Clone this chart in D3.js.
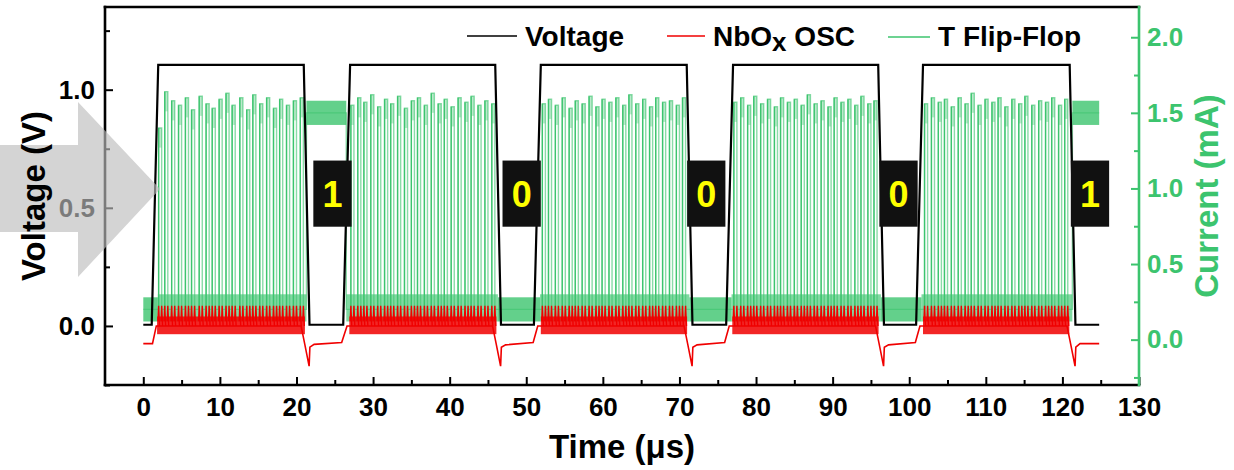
<!DOCTYPE html>
<html><head><meta charset="utf-8">
<script src="https://cdn.jsdelivr.net/npm/d3@7"></script>
<style>
body{margin:0;background:#fff;}
svg{display:block;font-family:"Liberation Sans",Arial,sans-serif;font-weight:bold;}
</style></head><body>
<svg id="chart" width="1234" height="470"></svg>
<script>
// ---- data ----
// input voltage (V): breakpoints of the pulse train
const voltT = [0, 1.1, 1.95, 20.95, 21.7, 26.1, 27.0, 45.95, 46.7, 51.0, 51.9, 70.95, 71.7, 76.1, 77.0, 95.95, 96.7, 100.9, 101.8, 120.95, 121.7, 124.8];
const voltV = [0.005, 0.005, 1.105, 1.105, 0.005, 0.005, 1.105, 1.105, 0.005, 0.005, 1.105, 1.105, 0.005, 0.005, 1.105, 1.105, 0.005, 0.005, 1.105, 1.105, 0.005, 0.005];

// NbOx oscillator (V): baseline between / at the edges of pulses
const redT = [0, 1.2, 1.7, 20.6, 21.1, 21.65, 21.75, 22.3, 25.9, 26.6,
  45.6, 46.1, 46.65, 46.75, 47.3, 50.9, 51.5,
  70.6, 71.1, 71.65, 71.75, 72.3, 75.9, 76.5,
  95.6, 96.1, 96.65, 96.75, 97.3, 100.8, 101.4,
  120.6, 121.1, 121.65, 121.75, 122.3, 124.8];
const redV = [-0.075, -0.075, 0.0, 0.0, -0.08, -0.17, -0.09, -0.078, -0.07, 0.0,
  0.0, -0.08, -0.17, -0.09, -0.08, -0.07, 0.0,
  0.0, -0.08, -0.17, -0.09, -0.08, -0.07, 0.0,
  0.0, -0.08, -0.17, -0.09, -0.08, -0.07, 0.0,
  0.0, -0.08, -0.17, -0.09, -0.075, -0.075];
const redBand = [-0.035, 0.04];   // dense oscillation band while pulse is on
const redSpikeTop = 0.085;

// T flip-flop current (mA): resting levels between pulses
const offStart = [0, 21.3, 46.3, 71.3, 96.3, 121.3];
const offEnd = [1.9, 26.5, 51.8, 76.8, 101.6, 124.8];
const offLevel = [0.2, 1.5, 0.2, 0.2, 0.2, 1.5];
const baseLevel = 0.2;
const spikeW = 0.4;
// spike start time (us) and top current (mA) for each pulse
const spikes1 = [[2.0,1.40],[2.8,1.64],[3.7,1.58],[4.6,1.55],[5.5,1.60],[6.3,1.52],[7.3,1.61],[8.2,1.56],[9.0,1.53],[9.9,1.59],[10.8,1.63],[11.6,1.55],[12.6,1.60],[13.5,1.52],[14.3,1.62],[15.2,1.56],[16.1,1.60],[17.0,1.53],[17.8,1.59],[18.7,1.55],[19.6,1.58],[20.5,1.60]];
const spikes2 = [[27.1,1.55],[28.0,1.60],[28.8,1.57],[29.7,1.62],[30.6,1.54],[31.5,1.59],[32.3,1.56],[33.2,1.61],[34.1,1.53],[35.0,1.58],[35.8,1.60],[36.7,1.55],[37.6,1.63],[38.5,1.56],[39.3,1.59],[40.2,1.54],[41.1,1.60],[42.0,1.57],[42.8,1.61],[43.7,1.55],[44.6,1.58],[45.5,1.56]];
const spikes3 = [[52.1,1.56],[52.9,1.59],[53.8,1.55],[54.7,1.60],[55.6,1.53],[56.4,1.58],[57.3,1.56],[58.2,1.61],[59.1,1.54],[59.9,1.59],[60.8,1.57],[61.7,1.60],[62.6,1.55],[63.4,1.62],[64.3,1.56],[65.2,1.59],[66.1,1.54],[66.9,1.60],[67.8,1.57],[68.7,1.58],[69.6,1.55],[70.4,1.60]];
const spikes4 = [[77.1,1.57],[78.0,1.60],[78.9,1.55],[79.7,1.61],[80.6,1.56],[81.5,1.59],[82.4,1.54],[83.2,1.60],[84.1,1.57],[85.0,1.59],[85.9,1.55],[86.7,1.62],[87.6,1.56],[88.5,1.58],[89.4,1.54],[90.2,1.60],[91.1,1.57],[92.0,1.59],[92.9,1.55],[93.7,1.61],[94.6,1.56],[95.4,1.58]];
const spikes5 = [[102.0,1.56],[102.9,1.60],[103.8,1.57],[104.6,1.59],[105.5,1.54],[106.4,1.60],[107.3,1.56],[108.1,1.63],[109.0,1.55],[109.9,1.59],[110.8,1.57],[111.6,1.60],[112.5,1.54],[113.4,1.59],[114.3,1.56],[115.1,1.61],[116.0,1.55],[116.9,1.58],[117.8,1.57],[118.6,1.60],[119.5,1.55],[120.3,1.59]];
const spikes = [spikes1, spikes2, spikes3, spikes4, spikes5];

// read-out bits written in the black boxes
const bits = ['1', '0', '0', '0', '1'];
const bitT = [24.7, 49.4, 73.5, 98.6, 123.6];

// axes
const xTicks = d3.range(0, 131, 10);
const xMinor = d3.range(5, 130, 10);
const vTicks = [0, 0.5, 1.0];
const vMinor = [-0.25, 0.25, 0.75, 1.25];
const iTicks = [0, 0.5, 1.0, 1.5, 2.0];
const iMinor = [-0.25, 0.25, 0.75, 1.25, 1.75];

const GREEN = '#3cc46e', RED = '#f00000';

const svg = d3.select('#chart');
const x = d3.scaleLinear().domain([-5, 130]).range([105, 1139]);
const yV = d3.scaleLinear().domain([-0.25, 1.35]).range([385, 7]);
const yI = d3.scaleLinear().domain([-0.3, 2.2]).range([385, 7]);

const plot = svg.append('g');

// ---- T flip-flop (right axis) ----
const gBand = 0.08;
plot.selectAll('.goff').data(offStart).join('rect')
  .attr('x', (d, i) => x(d)).attr('width', (d, i) => x(offEnd[i]) - x(d))
  .attr('y', (d, i) => yI(offLevel[i] + gBand)).attr('height', (d, i) => yI(offLevel[i] - gBand) - yI(offLevel[i] + gBand))
  .attr('fill', GREEN).attr('opacity', 0.8);
plot.selectAll('.gon').data(spikes).join('rect')
  .attr('x', (d, i) => x(offEnd[i])).attr('width', (d, i) => x(offStart[i + 1]) - x(offEnd[i]))
  .attr('y', yI(baseLevel + 0.1)).attr('height', yI(baseLevel - 0.08) - yI(baseLevel + 0.1))
  .attr('fill', GREEN).attr('opacity', 0.65);
// bursty tops of the spikes
plot.selectAll('.gtop').data(spikes.flat()).join('rect')
  .attr('x', d => x(d[0])).attr('width', x(spikeW) - x(0))
  .attr('y', d => yI(d[1])).attr('height', d => yI(d[1] - 0.13) - yI(d[1]))
  .attr('fill', GREEN).attr('opacity', 0.35);

const gPts = [];
offStart.forEach((s, i) => {
  gPts.push([s, offLevel[i]], [offEnd[i], offLevel[i]]);
  if (i < spikes.length) {
    gPts.push([offEnd[i], baseLevel]);
    spikes[i].forEach(([t, p]) => gPts.push([t, baseLevel], [t, p], [t + spikeW, p], [t + spikeW, baseLevel]));
    gPts.push([offStart[i + 1], baseLevel]);
  }
});
const gLine = d3.line().x(d => x(d[0])).y(d => yI(d[1]));
plot.append('path').attr('d', gLine(gPts)).attr('fill', 'none')
  .attr('stroke', GREEN).attr('stroke-width', 1.4).attr('stroke-opacity', 0.6);
// rising edges drawn a bit stronger, like the denser sampled edges of the scope trace
plot.selectAll('.gedge').data(spikes.flat()).join('line')
  .attr('x1', d => x(d[0])).attr('x2', d => x(d[0]))
  .attr('y1', yI(baseLevel)).attr('y2', d => yI(d[1]))
  .attr('stroke', GREEN).attr('stroke-width', 1.3);

// ---- NbOx oscillator (left axis) ----
plot.selectAll('.rband').data(spikes).join('rect')
  .attr('x', d => x(d[0][0] - 0.2)).attr('width', d => x(d[d.length - 1][0] + spikeW + 0.2) - x(d[0][0] - 0.2))
  .attr('y', yV(redBand[1])).attr('height', yV(redBand[0]) - yV(redBand[1]))
  .attr('fill', RED).attr('opacity', 0.85);
const vLine = d3.line().x(d => x(d[0])).y(d => yV(d[1]));
plot.append('path').attr('d', vLine(redT.map((t, i) => [t, redV[i]])))
  .attr('fill', 'none').attr('stroke', RED).attr('stroke-width', 1.6);
const rEdges = spikes.flat().flatMap(([t]) => [t, t + spikeW]);
plot.selectAll('.rsp').data(rEdges).join('path')
  .attr('d', t => vLine([[t - 0.08, 0.02], [t, redSpikeTop], [t + 0.12, 0.0]]))
  .attr('fill', 'none').attr('stroke', RED).attr('stroke-width', 1.4);

// ---- Voltage ----
plot.append('path').attr('d', vLine(voltT.map((t, i) => [t, voltV[i]])))
  .attr('fill', 'none').attr('stroke', '#000').attr('stroke-width', 2.2);

// ---- bit boxes ----
const boxes = svg.append('g');
boxes.selectAll('rect').data(bitT).join('rect')
  .attr('x', d => x(d - 2.5)).attr('width', x(5) - x(0))
  .attr('y', yV(0.70)).attr('height', yV(0.42) - yV(0.70))
  .attr('fill', '#111');
boxes.selectAll('text').data(bits).join('text')
  .attr('x', (d, i) => x(bitT[i])).attr('y', yV(0.56)).attr('dy', '0.36em')
  .attr('text-anchor', 'middle').attr('font-size', 36).attr('fill', '#ffff00').text(d => d);

// ---- axes ----
const fmt = d3.format('.1f');
function styleAxis(g, color) {
  g.select('.domain').remove();
  g.selectAll('line').attr('stroke', color).attr('stroke-width', 2);
  g.selectAll('text').attr('fill', color).attr('font-size', 26).attr('font-family', '"Liberation Sans",Arial,sans-serif').attr('font-weight', 'bold');
}
svg.append('g').attr('transform', 'translate(0,385)')
  .call(d3.axisBottom(x).tickValues(xTicks).tickSize(-8).tickPadding(13))
  .call(g => styleAxis(g, '#000'));
svg.append('g').attr('transform', 'translate(0,385)')
  .call(d3.axisBottom(x).tickValues(xMinor).tickSize(-5).tickFormat(''))
  .call(g => styleAxis(g, '#000'));
svg.append('g').attr('transform', 'translate(105,0)')
  .call(d3.axisLeft(yV).tickValues(vTicks).tickSize(-8).tickPadding(10).tickFormat(fmt))
  .call(g => styleAxis(g, '#000'));
svg.append('g').attr('transform', 'translate(105,0)')
  .call(d3.axisLeft(yV).tickValues(vMinor).tickSize(-5).tickFormat(''))
  .call(g => styleAxis(g, '#000'));
svg.append('g').attr('transform', 'translate(1139,0)')
  .call(d3.axisRight(yI).tickValues(iTicks).tickSize(-8).tickPadding(8).tickFormat(fmt))
  .call(g => styleAxis(g, GREEN));
svg.append('g').attr('transform', 'translate(1139,0)')
  .call(d3.axisRight(yI).tickValues(iMinor).tickSize(-5).tickFormat(''))
  .call(g => styleAxis(g, GREEN));

// frame
const fr = svg.append('g').attr('stroke-width', 2.6).attr('stroke-linecap', 'square');
fr.append('line').attr('x1', 105).attr('x2', 1139).attr('y1', 7).attr('y2', 7).attr('stroke', '#000');
fr.append('line').attr('x1', 105).attr('x2', 1139).attr('y1', 385).attr('y2', 385).attr('stroke', '#000');
fr.append('line').attr('x1', 105).attr('x2', 105).attr('y1', 7).attr('y2', 385).attr('stroke', '#000');
fr.append('line').attr('x1', 1139).attr('x2', 1139).attr('y1', 7).attr('y2', 385).attr('stroke', GREEN);

// big grey arrow
svg.append('path')
  .attr('d', 'M0,145 L78,145 L78,102 L160,189 L78,277 L78,232 L0,232 Z')
  .attr('fill', '#bdbdbd').attr('opacity', 0.65);

// axis titles
svg.append('text').attr('transform', 'translate(45,196) rotate(-90)')
  .attr('text-anchor', 'middle').attr('font-size', 33).attr('fill', '#000').text('Voltage (V)');
svg.append('text').attr('transform', 'translate(1218,196) rotate(-90)')
  .attr('text-anchor', 'middle').attr('font-size', 33).attr('fill', GREEN).text('Current (mA)');
svg.append('text').attr('x', 622).attr('y', 458)
  .attr('text-anchor', 'middle').attr('font-size', 33).attr('fill', '#000').text('Time (μs)');

// legend
const leg = svg.append('g');
leg.append('line').attr('x1', 467).attr('x2', 517).attr('y1', 36).attr('y2', 36).attr('stroke', '#000').attr('stroke-width', 1.5);
leg.append('text').attr('x', 525).attr('y', 46).attr('font-size', 28).text('Voltage');
leg.append('line').attr('x1', 667).attr('x2', 705).attr('y1', 36).attr('y2', 36).attr('stroke', RED).attr('stroke-width', 1.5);
const nb = leg.append('text').attr('x', 713).attr('y', 46).attr('font-size', 28);
nb.append('tspan').text('NbO');
nb.append('tspan').attr('dy', 5).attr('font-size', 26).text('x');
nb.append('tspan').attr('dy', -5).text(' OSC');
leg.append('line').attr('x1', 888).attr('x2', 930).attr('y1', 37).attr('y2', 37).attr('stroke', GREEN).attr('stroke-width', 1.5);
leg.append('text').attr('x', 938).attr('y', 46).attr('font-size', 28).text('T Flip-Flop');
</script>
</body></html>
